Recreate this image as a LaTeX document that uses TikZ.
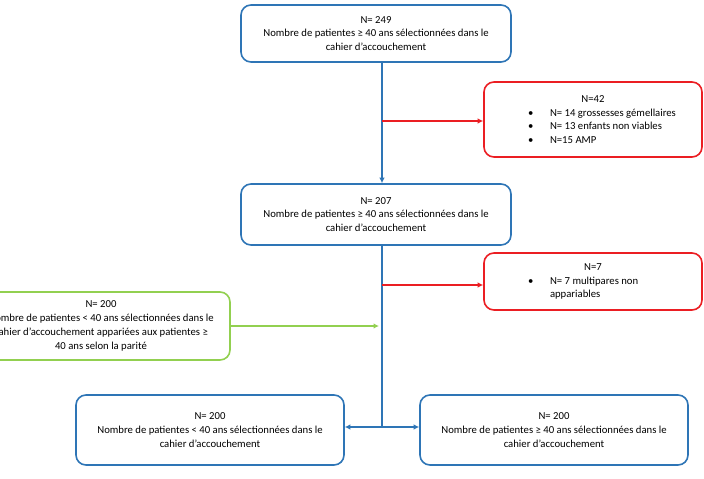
\documentclass[tikz,border=0pt]{standalone}
\usepackage{fontspec}
\setmainfont{Carlito}
\usetikzlibrary{positioning}
\usetikzlibrary{arrows.meta}

\definecolor{flowblue}{RGB}{46,117,182}
\definecolor{flowred}{RGB}{235,30,35}
\definecolor{flowgreen}{RGB}{146,208,80}

\newcommand{\bul}[1]{\makebox[130pt][l]{\makebox[22pt][l]{\textbullet}#1}}

\begin{document}
\begin{tikzpicture}
    [x=1pt, y=1pt,
     every node/.style={rounded corners=10pt, line width=1.6pt, align=center,
       font=\fontsize{10.7}{13.8}\selectfont, inner sep=2pt},
     bluebox/.style={draw=flowblue, minimum width=270pt},
     redbox/.style={draw=flowred, minimum width=218pt},
     greenbox/.style={draw=flowgreen, minimum width=258pt},
     tip/.style={-{Latex[length=5.5pt,width=5.5pt]}, line width=1.2pt}]
    \useasboundingbox (0,0) rectangle (704,-479);

    \node (n249) [bluebox, minimum height=57pt] at (376,-33.5)
      {N= 249\\Nombre de patientes ≥ 40 ans sélectionnées dans le\\cahier d’accouchement};
    \node (n42) [redbox, minimum height=75pt] at (593,-119.5)
      {N=42\\\bul{N= 14 grossesses gémellaires}\\\bul{N= 13 enfants non viables}\\\bul{N=15 AMP}};
    \node (n207) [bluebox, minimum height=61pt] at (376,-214.5)
      {N= 207\\Nombre de patientes ≥ 40 ans sélectionnées dans le\\cahier d’accouchement};
    \node (n7) [redbox, minimum height=57pt] at (593,-281.5)
      {N=7\\\bul{N= 7 multipares non}\\\makebox[130pt][l]{\hspace*{22pt}appariables}};
    \node (ctrl) [greenbox, minimum height=68pt] at (101,-326)
      {N= 200\\Nombre de patientes < 40 ans sélectionnées dans le\\cahier d’accouchement appariées aux patientes ≥\\40 ans selon la parité};
    \node (young) [bluebox, minimum width=268pt, minimum height=70pt] at (210,-430)
      {N= 200\\Nombre de patientes < 40 ans sélectionnées dans le\\cahier d’accouchement};
    \node (old) [bluebox, minimum width=268pt, minimum height=70pt] at (554,-430)
      {N= 200\\Nombre de patientes ≥ 40 ans sélectionnées dans le\\cahier d’accouchement};

    \coordinate (trunk) at (382,0);
    \coordinate (split) at (382,-427);

    \draw[tip, flowblue] (n249.south -| trunk) -- (n207.north -| trunk);
    \draw[tip, flowred] ([yshift=-1.5pt]n42.west -| trunk) -- ([yshift=-1.5pt]n42.west);
    \draw[line width=1.2pt, flowblue] (n207.south -| trunk) -- (split);
    \draw[tip, flowred] ([yshift=-3.5pt]n7.west -| trunk) -- ([yshift=-3.5pt]n7.west);
    \draw[tip, flowgreen, shorten >=3pt] (ctrl.east) -- (ctrl.east -| trunk);
    \draw[tip, flowblue] (split) -- (split -| young.east);
    \draw[tip, flowblue] (split) -- (split -| old.west);

  \end{tikzpicture}
\end{document}
